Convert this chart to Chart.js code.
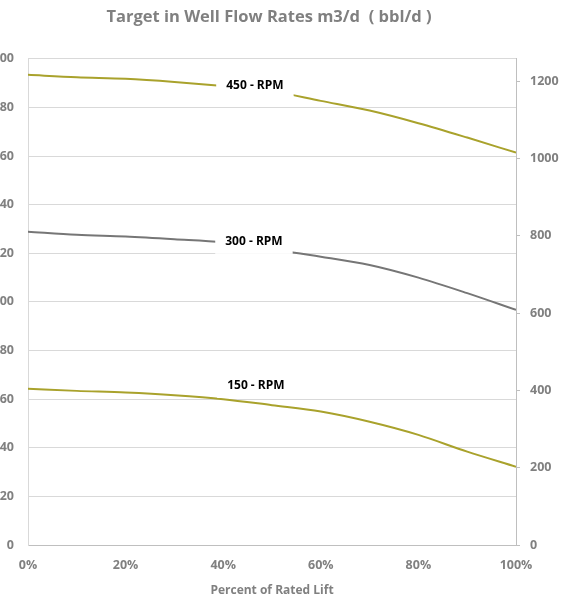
<!DOCTYPE html>
<html>
<head>
<meta charset="utf-8">
<script src="https://cdn.jsdelivr.net/npm/chart.js@4"></script>
<style>
  html, body { margin: 0; padding: 0; background: #fff; overflow: hidden; }
  #wrap { position: absolute; left: -22px; top: 0; width: 590px; height: 598px; }
</style>
</head>
<body>
<div id="wrap"><canvas id="flowChart" width="590" height="598"></canvas></div>
<script>
// percent of rated lift
const liftPercent = [0, 10, 20, 30, 40, 50, 60, 70, 80, 90, 100];

// flow rates in m3/d
const rpm450 = [193.4, 192.4, 191.8, 190.5, 188.8, 186.7, 182.7, 178.7, 173.5, 167.6, 161.4];
const rpm300 = [128.9, 127.6, 126.9, 125.8, 124.5, 121.5, 118.6, 115.2, 110.0, 103.6, 96.7];
const rpm150 = [64.3, 63.4, 62.7, 61.6, 60.0, 57.5, 54.9, 50.7, 45.3, 38.4, 32.2];

const seriesNames = ['450 - RPM', '300 - RPM', '150 - RPM'];
// where each curve label sits (lift %, m3/d)
const labelLift = [46.5, 46.3, 46.7];
const labelFlow = [188.9, 124.7, 65.4];

const BBL_PER_M3 = 6.29;

const olive = '#a9a22c';
const grey = '#767676';
const textGrey = '#808080';
const font = 'Open Sans';

function toPoints(values) {
  return liftPercent.map((p, i) => ({ x: p, y: values[i] }));
}

const curveLabels = {
  id: 'curveLabels',
  afterDatasetsDraw(chart) {
    const ctx = chart.ctx;
    const xs = chart.scales.x;
    const ys = chart.scales.y;
    ctx.save();
    ctx.font = `bold 12px "${font}"`;
    ctx.textAlign = 'center';
    ctx.textBaseline = 'middle';
    seriesNames.forEach((name, i) => {
      const x = xs.getPixelForValue(labelLift[i]);
      const y = ys.getPixelForValue(labelFlow[i]);
      const w = ctx.measureText(name).width + 20;
      ctx.fillStyle = '#ffffff';
      ctx.fillRect(x - w / 2, y - 12, w, 24);
      ctx.fillStyle = '#000000';
      ctx.fillText(name, x, y);
    });
    ctx.restore();
  }
};

const datasets = [rpm450, rpm300, rpm150].map((vals, i) => ({
  label: seriesNames[i],
  data: toPoints(vals),
  borderColor: i === 1 ? grey : olive,
  borderWidth: 2,
  pointRadius: 0,
  fill: false,
  cubicInterpolationMode: 'monotone',
  yAxisID: 'y'
}));

new Chart(document.getElementById('flowChart'), {
  type: 'line',
  data: { datasets },
  options: {
    responsive: false,
    animation: false,
    layout: { padding: { left: 0, right: 8, top: 0, bottom: 0 } },
    scales: {
      x: {
        type: 'linear',
        min: 0,
        max: 100,
        ticks: {
          stepSize: 20,
          padding: 5,
          color: textGrey,
          font: { family: font, size: 12.5, weight: 'bold' },
          callback: v => v + '%'
        },
        grid: { display: false },
        border: { color: '#bfbfbf' },
        title: {
          display: true,
          text: 'Percent of Rated Lift',
          color: textGrey,
          padding: 0,
          font: { family: font, size: 12, weight: 'bold' }
        },
        afterFit(scale) { scale.height = 53; }
      },
      y: {
        position: 'left',
        min: 0,
        max: 200,
        ticks: {
          stepSize: 20,
          padding: 14,
          color: textGrey,
          font: { family: font, size: 12.5, weight: 'bold' },
          callback: v => String(v)
        },
        grid: { color: '#d9d9d9', drawTicks: false },
        border: { color: '#d9d9d9' },
        afterFit(scale) { scale.width = 50; }
      },
      y1: {
        position: 'right',
        min: 0,
        max: 200 * BBL_PER_M3,
        ticks: {
          stepSize: 200,
          padding: 10,
          color: textGrey,
          font: { family: font, size: 12.5, weight: 'bold' },
          callback: v => String(v)
        },
        afterBuildTicks(scale) {
          scale.ticks = scale.ticks.filter(t => t.value % 200 === 0);
        },
        grid: { drawOnChartArea: false, tickLength: 4, color: '#bfbfbf' },
        border: { color: '#bfbfbf' },
        afterFit(scale) { scale.width = 44; }
      }
    },
    plugins: {
      legend: { display: false },
      tooltip: { enabled: false },
      title: {
        display: true,
        text: 'Target in Well Flow Rates m3/d  ( bbl/d )',
        color: textGrey,
        padding: { top: 7, bottom: 32 },
        font: { family: font, size: 16.5, weight: 'bold' }
      }
    }
  },
  plugins: [curveLabels]
});
</script>
</body>
</html>
